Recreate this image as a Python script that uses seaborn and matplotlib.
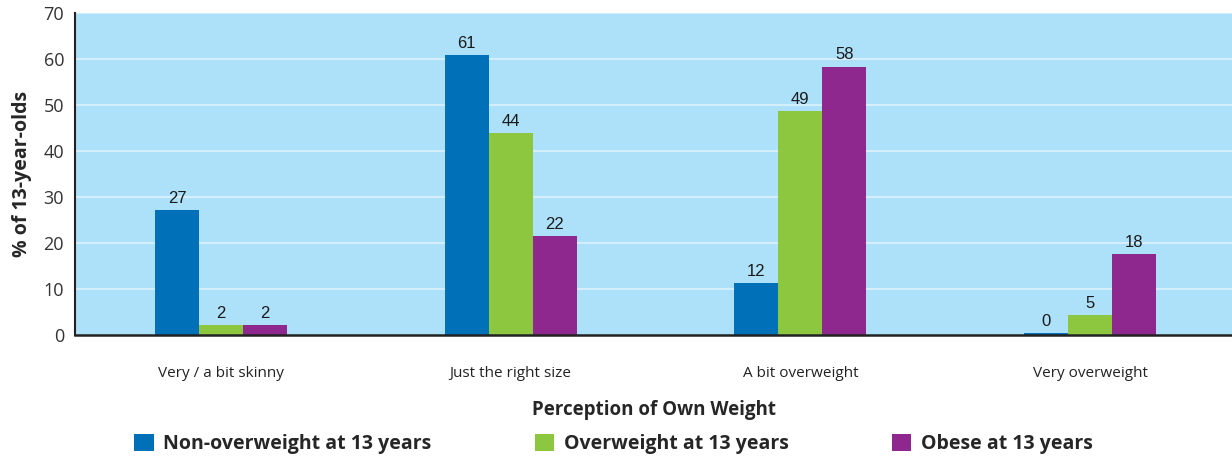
import matplotlib.pyplot as plt
import pandas as pd
import seaborn as sns

# Data
categories = ['Very / a bit skinny', 'Just the right size', 'A bit overweight', 'Very overweight']
groups = ['Non-overweight at 13 years', 'Overweight at 13 years', 'Obese at 13 years']
non_overweight = [27.2, 60.9, 11.3, 0.4]
overweight = [2.2, 43.9, 48.7, 4.3]
obese = [2.2, 21.5, 58.3, 17.6]
labels_non = ['27', '61', '12', '0']
labels_over = ['2', '44', '49', '5']
labels_obese = ['2', '22', '58', '18']

colors = ['#0070B8', '#8DC63F', '#8E278E']

df = pd.DataFrame({
    'category': categories * 3,
    'group': [groups[0]] * 4 + [groups[1]] * 4 + [groups[2]] * 4,
    'value': non_overweight + overweight + obese,
})

sns.set_style('white')
plt.rcParams['font.family'] = ['Open Sans', 'DejaVu Sans']

fig = plt.figure(figsize=(12.32, 4.57), dpi=100)
ax = fig.add_axes([0.061, 0.267, 0.939, 0.705])
ax.set_facecolor('#ADE0F9')

sns.barplot(data=df, x='category', y='value', hue='group', palette=colors,
            width=0.455, saturation=1, linewidth=0, ax=ax, legend=True)

for i in range(7):
    ax.axhline(10 * (i + 1), color='#D4EEFB', lw=1.5, zorder=0)
ax.set_axisbelow(True)

for cont, labs in zip(ax.containers, [labels_non, labels_over, labels_obese]):
    ax.bar_label(cont, labels=labs, padding=3, fontsize=12,
                 family='Liberation Sans', color='#1a1a1a')

ax.set_ylim(0, 70)
ax.set_xlim(-0.503, 3.49)
ax.set_yticks(range(0, 71, 10))
ax.tick_params(axis='y', labelsize=13, length=0, pad=8, colors='#333333')
ax.tick_params(axis='x', labelsize=11, length=0, pad=22, colors='#222222')
ax.set_ylabel('% of 13-year-olds', fontsize=14, fontweight='bold', labelpad=8)
ax.set_xlabel('Perception of Own Weight', fontsize=13.5, fontweight='bold', labelpad=14)

for s in ['top', 'right']:
    ax.spines[s].set_visible(False)
ax.spines['left'].set_color('#222222')
ax.spines['bottom'].set_color('#222222')
ax.spines['left'].set_linewidth(1.5)
ax.spines['bottom'].set_linewidth(1.8)

handles, labs = ax.get_legend_handles_labels()
ax.legend(handles, labs, loc='center', bbox_to_anchor=(0.498, 0.028), bbox_transform=fig.transFigure,
          ncol=3, frameon=False, prop={'size': 14, 'weight': 'bold'},
          handlelength=1.0, handleheight=1.0, handletextpad=0.5, columnspacing=5.3)

fig.savefig('out.png', dpi=100)
